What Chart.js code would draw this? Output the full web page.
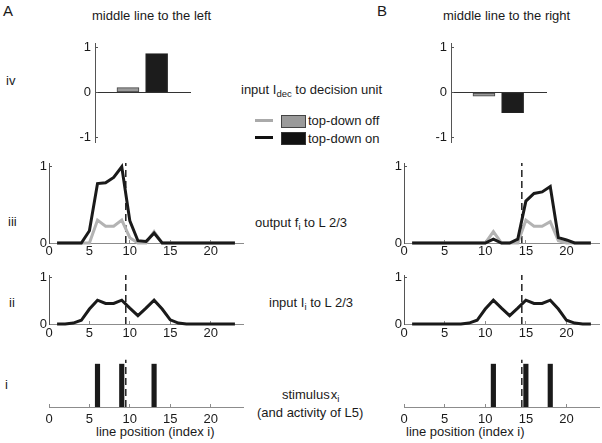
<!DOCTYPE html>
<html><head><meta charset="utf-8">
<script src="https://cdn.jsdelivr.net/npm/chart.js@4.4.1/dist/chart.umd.min.js"></script>
<style>
html,body{margin:0;padding:0;background:#fff;overflow:hidden;}
body{width:602px;height:443px;position:relative;font-family:"Liberation Sans",Arial,sans-serif;color:#1a1a1a;}
canvas{position:absolute;}
.t{position:absolute;font-size:13px;line-height:16px;white-space:nowrap;}
.big{font-size:15px;}
.s{font-size:9.5px;position:relative;top:3px;}
.sw{position:absolute;}
</style></head><body>
<div class="t big" style="left:3px;top:3px;">A</div>
<div class="t big" style="left:377px;top:3px;">B</div>
<div class="t" style="left:92px;top:8px;">middle line to the left</div>
<div class="t" style="left:443px;top:8px;">middle line to the right</div>
<div class="t" style="left:6px;top:73px;">iv</div>
<div class="t" style="left:8px;top:214px;">iii</div>
<div class="t" style="left:9px;top:295px;">ii</div>
<div class="t" style="left:5px;top:377px;">i</div>
<div class="t" style="left:241px;top:82px;">input I<span class="s">dec</span> to decision unit</div>
<div class="t" style="left:255px;top:215px;">output f<span class="s">i</span> to L 2/3</div>
<div class="t" style="left:269px;top:295px;">input I<span class="s">i</span> to L 2/3</div>
<div class="t" style="left:282px;top:387px;">stimulus&#8202;x<span class="s">i</span></div>
<div class="t" style="left:257px;top:405px;">(and activity of L5)</div>
<div class="t" style="left:96px;top:424px;">line position (index i)</div>
<div class="t" style="left:406px;top:424px;">line position (index i)</div>
<div class="sw" style="left:255px;top:119px;width:18px;height:3px;background:#aaa;"></div>
<div class="sw" style="left:281px;top:115px;width:23px;height:11px;background:#9a9a9a;border:1px solid #444;"></div>
<div class="t" style="left:308px;top:113px;">top-down off</div>
<div class="sw" style="left:255px;top:136px;width:18px;height:3px;background:#111;"></div>
<div class="sw" style="left:281px;top:132px;width:23px;height:11px;background:#111;border:1px solid #333;"></div>
<div class="t" style="left:308px;top:131px;">top-down on</div>
<script>
// ---------- data ----------
const positions = [1,2,3,4,5,6,7,8,9,10,11,12,13,14,15,16,17,18,19,20,21,22,23];
const xTicks = [0,5,10,15,20];
const yTicks = [0,1];
const yTicksDecision = [-1,0,1];
const decisionCats = [1,2]; // top-down off, top-down on
const decisionA = [0.11, 0.87];
const decisionB = [-0.08, -0.45];
const outputOnA  = [0,0,0,0,0.16,0.78,0.79,0.86,1.0,0.29,0.03,0.02,0.13,0,0,0,0,0,0,0,0,0,0];
const outputOffA = [0,0,0,0,0,0.30,0.22,0.22,0.30,0.07,0,0,0.15,0,0,0,0,0,0,0,0,0,0];
const outputOnB  = [0,0,0,0,0,0,0,0,0,0,0.05,0,0,0.05,0.55,0.65,0.67,0.74,0.07,0.04,0,0,0];
const outputOffB = [0,0,0,0,0,0,0,0,0,0,0.15,0,0,0,0.30,0.22,0.22,0.28,0.03,0,0,0,0];
const inputA = [0,0,0.02,0.08,0.32,0.51,0.44,0.44,0.51,0.34,0.18,0.34,0.51,0.32,0.09,0.02,0,0,0,0,0,0,0];
const inputB = [0,0,0,0,0,0,0,0.02,0.08,0.32,0.51,0.34,0.18,0.34,0.51,0.44,0.44,0.51,0.32,0.08,0.02,0,0];
const stimulusA = [6,9,13];
const stimulusB = [11,15,18];
const middleA = 9.5;
const middleB = 14.5;

// ---------- helpers ----------
const FONT = '"Liberation Sans", Arial, sans-serif';
const PAD = 16;
const TL = -3; // inward tick marks
const GRAY = '#b3b3b3', BLACK = '#1a1a1a';
function pts(arr){ return positions.map((x,i)=>({x:x,y:arr[i]})); }

function makeChart(area, yw, xh, config){
  const c = document.createElement('canvas');
  const w = (area.r-area.l)+2*PAD+yw, h = (area.b-area.t)+2*PAD+xh;
  c.width = w; c.height = h;
  c.style.left = (area.l-PAD-yw)+'px'; c.style.top = (area.t-PAD)+'px';
  c.style.width = w+'px'; c.style.height = h+'px';
  document.body.appendChild(c);
  config.options = Object.assign({
    responsive:false, animation:false, devicePixelRatio:1,
    layout:{padding:PAD},
    plugins:{legend:{display:false}, tooltip:{enabled:false}}
  }, config.options);
  return new Chart(c, config);
}
function xScale(min,max,display,xh,pad){
  return {type:'linear', min:min, max:max, display:display, offset:false,
    afterFit:s=>{s.height=xh;},
    afterBuildTicks:s=>{s.ticks=xTicks.map(v=>({value:v}));},
    grid:{color:'transparent', drawOnChartArea:false, drawTicks:true, tickLength:TL, tickColor:'#8c8c8c', offset:false},
    border:{display:true, color:'#8c8c8c', width:1},
    ticks:{padding:pad-TL, color:'#1a1a1a', font:{family:FONT,size:13}, maxRotation:0, autoSkip:false}};
}
function yScale(min,max,ticks,yw,pad,zeroLine){
  return {type:'linear', min:min, max:max,
    afterFit:s=>{s.width=yw;},
    afterBuildTicks:s=>{s.ticks=ticks.map(v=>({value:v}));},
    grid:{drawTicks:true, tickLength:TL, tickColor:'#555', lineWidth:1,
      color: ctx => (zeroLine && ctx.tick && ctx.tick.value===0) ? '#333' : 'transparent'},
    border:{display:true, color:'#555', width:1},
    ticks:{padding:pad-TL, color:'#1a1a1a', font:{family:FONT,size:13}}};
}
function midLine(x, top){
  return {type:'line', data:[{x:x,y:0},{x:x,y:top}], borderColor:'#222', borderWidth:1.5,
    borderDash:[7,4], pointRadius:0, clip:false, order:5};
}
function seriesLine(data,color,order){
  return {type:'line', data:pts(data), borderColor:color, borderWidth:3, pointRadius:0,
    tension:0, clip:6, order:order, borderJoinStyle:'miter'};
}

// ---------- iv: decision unit ----------
function decisionChart(area, vals){
  makeChart(area, 24, 0, {
    type:'bar',
    data:{datasets:[{data:decisionCats.map((x,i)=>({x:x,y:vals[i]})),
      backgroundColor:['#9a9a9a','#1c1c1c'], borderColor:['#444','#222'], borderWidth:1,
      borderSkipped:false, barThickness:22}]},
    options:{scales:{
      x:{type:'linear', min:-0.15, max:3.2, display:false, offset:false, grid:{offset:false}},
      y:yScale(-1.11,1.11,yTicksDecision,24,4,true)
    }}
  });
}
decisionChart({l:95,r:191,t:43,b:142}, decisionA);
decisionChart({l:451,r:547,t:43,b:142}, decisionB);

// ---------- iii: output ----------
function outputChart(area, on, off, mid){
  makeChart(area, 24, 18, {
    type:'line',
    data:{datasets:[seriesLine(on,BLACK,1), seriesLine(off,GRAY,2), midLine(mid,1.05)]},
    options:{scales:{x:xScale(0,24,true,18,1), y:yScale(0,1.05,yTicks,24,2,false)}}
  });
}
outputChart({l:49,r:243,t:163,b:243}, outputOnA, outputOffA, middleA);
outputChart({l:404,r:599,t:163,b:243}, outputOnB, outputOffB, middleB);

// ---------- ii: input ----------
function inputChart(area, vals, mid){
  makeChart(area, 24, 18, {
    type:'line',
    data:{datasets:[seriesLine(vals,BLACK,1), midLine(mid,1.05)]},
    options:{scales:{x:xScale(0,24,true,18,2), y:yScale(0,1.05,yTicks,24,2,false)}}
  });
}
inputChart({l:49,r:243,t:275,b:324}, inputA, middleA);
inputChart({l:404,r:599,t:275,b:324}, inputB, middleB);

// ---------- i: stimulus ----------
function stimulusChart(area, stim, mid){
  makeChart(area, 0, 18, {
    type:'bar',
    data:{datasets:[
      {type:'bar', data:stim.map(x=>({x:x,y:1})), backgroundColor:'#1a1a1a', barThickness:4.5, order:1},
      midLine(mid,1.1)
    ]},
    options:{scales:{x:xScale(0,24,true,18,5), y:{type:'linear',min:0,max:1.05,display:false}}}
  });
}
stimulusChart({l:49,r:243,t:362,b:407}, stimulusA, middleA);
stimulusChart({l:404,r:599,t:362,b:407}, stimulusB, middleB);
</script>
</body></html>
